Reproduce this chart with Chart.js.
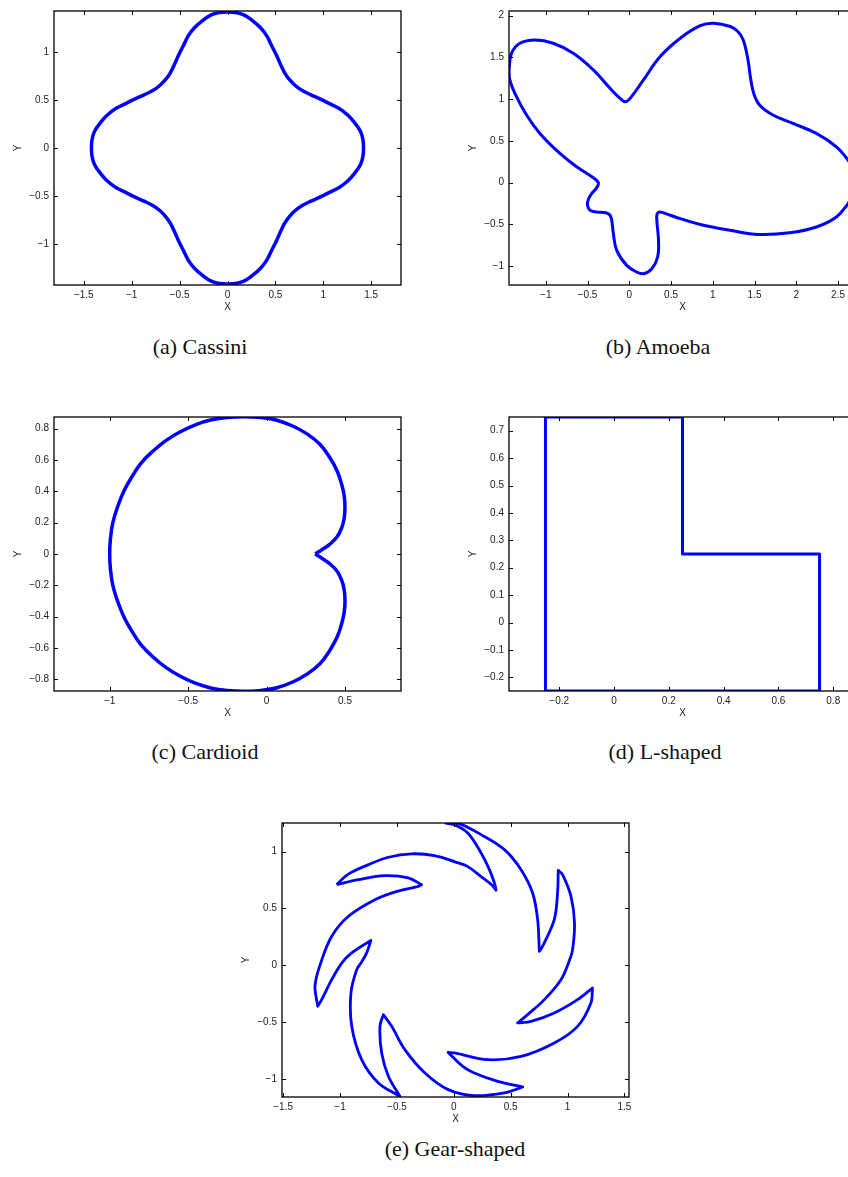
<!DOCTYPE html>
<html>
<head>
<meta charset="utf-8">
<script src="https://cdn.jsdelivr.net/npm/chart.js@4.4.1/dist/chart.umd.min.js"></script>
<style>
  html, body { margin: 0; padding: 0; background: #fff; }
  body { width: 848px; height: 1177px; position: relative; overflow: hidden; }
  .panel { position: absolute; }
  .panel canvas { display: block; }
  .caption {
    position: absolute;
    font-family: "Liberation Serif", "DejaVu Serif", serif;
    font-size: 22px;
    color: #111;
    transform: translate(-50%, -50%);
    white-space: nowrap;
  }
</style>
</head>
<body>

<div class="panel" style="left:0px;top:0px"><canvas id="cassini" width="420" height="320"></canvas></div>
<div class="panel" style="left:455px;top:0px"><canvas id="amoeba" width="420" height="320"></canvas></div>
<div class="panel" style="left:0px;top:406px"><canvas id="cardioid" width="420" height="320"></canvas></div>
<div class="panel" style="left:455px;top:406px"><canvas id="lshape" width="420" height="320"></canvas></div>
<div class="panel" style="left:228px;top:812px"><canvas id="gear" width="420" height="320"></canvas></div>

<div class="caption" style="left:200px;top:347px">(a) Cassini</div>
<div class="caption" style="left:658px;top:347px">(b) Amoeba</div>
<div class="caption" style="left:205px;top:752px">(c) Cardioid</div>
<div class="caption" style="left:665px;top:752px">(d) L-shaped</div>
<div class="caption" style="left:455px;top:1149px">(e) Gear-shaped</div>

<script>
// boundary points, [x, y]
const cassiniPts = [
  [1.42,0],[1.415,0.08],[1.39,0.17],[1.33,0.26],[1.26,0.34],[1.17,0.41],[1.07,0.46],[0.97,0.51],
  [0.87,0.555],[0.78,0.60],[0.71,0.65],[0.65,0.71],[0.60,0.78],[0.555,0.87],[0.51,0.97],
  [0.46,1.07],[0.41,1.17],[0.34,1.26],[0.26,1.33],[0.17,1.39],[0.08,1.415],[0,1.42],
  [-0.08,1.415],[-0.17,1.39],[-0.26,1.33],[-0.34,1.26],[-0.41,1.17],[-0.46,1.07],[-0.51,0.97],
  [-0.555,0.87],[-0.60,0.78],[-0.65,0.71],[-0.71,0.65],[-0.78,0.60],[-0.87,0.555],[-0.97,0.51],
  [-1.07,0.46],[-1.17,0.41],[-1.26,0.34],[-1.33,0.26],[-1.39,0.17],[-1.415,0.08],[-1.42,0],
  [-1.415,-0.08],[-1.39,-0.17],[-1.33,-0.26],[-1.26,-0.34],[-1.17,-0.41],[-1.07,-0.46],[-0.97,-0.51],
  [-0.87,-0.555],[-0.78,-0.60],[-0.71,-0.65],[-0.65,-0.71],[-0.60,-0.78],[-0.555,-0.87],[-0.51,-0.97],
  [-0.46,-1.07],[-0.41,-1.17],[-0.34,-1.26],[-0.26,-1.33],[-0.17,-1.39],[-0.08,-1.415],[0,-1.42],
  [0.08,-1.415],[0.17,-1.39],[0.26,-1.33],[0.34,-1.26],[0.41,-1.17],[0.46,-1.07],[0.51,-0.97],
  [0.555,-0.87],[0.60,-0.78],[0.65,-0.71],[0.71,-0.65],[0.78,-0.60],[0.87,-0.555],[0.97,-0.51],
  [1.07,-0.46],[1.17,-0.41],[1.26,-0.34],[1.33,-0.26],[1.39,-0.17],[1.415,-0.08],[1.42,0]
];

const amoebaPts = [
  [-1.44,1.35],[-1.41,1.55],[-1.31,1.67],[-1.13,1.71],[-0.91,1.67],[-0.67,1.55],[-0.43,1.35],
  [-0.23,1.13],[-0.11,1.01],[-0.05,0.97],[0.01,1.01],[0.17,1.23],[0.37,1.51],[0.61,1.73],
  [0.85,1.88],[1.01,1.91],[1.21,1.87],[1.30,1.81],[1.36,1.72],[1.40,1.58],[1.43,1.42],
  [1.45,1.27],[1.49,1.07],[1.56,0.93],[1.72,0.81],[1.96,0.71],[2.24,0.59],[2.48,0.43],
  [2.62,0.27],[2.69,0.14],[2.715,0.01],[2.69,-0.13],[2.62,-0.25],[2.48,-0.41],[2.24,-0.53],
  [1.92,-0.60],[1.55,-0.62],[1.21,-0.57],[0.89,-0.51],[0.61,-0.43],[0.49,-0.39],[0.37,-0.35],
  [0.335,-0.37],[0.33,-0.45],[0.35,-0.69],[0.34,-0.89],[0.27,-1.03],[0.17,-1.09],[0.09,-1.07],
  [-0.03,-0.99],[-0.15,-0.81],[-0.19,-0.61],[-0.21,-0.45],[-0.23,-0.39],[-0.28,-0.36],
  [-0.39,-0.35],[-0.47,-0.33],[-0.50,-0.27],[-0.49,-0.20],[-0.45,-0.13],[-0.39,-0.06],
  [-0.37,0.0],[-0.43,0.06],[-0.63,0.19],[-0.83,0.35],[-1.07,0.59],[-1.23,0.81],[-1.37,1.07],
  [-1.43,1.23],[-1.44,1.35]
];

// cusp point sits at both ends so it stays sharp
const cardioidPts = [
  [0.31,0],[0.35,0.025],[0.40,0.06],[0.45,0.11],[0.48,0.17],[0.495,0.23],[0.50,0.30],[0.495,0.37],
  [0.48,0.44],[0.45,0.53],[0.40,0.62],[0.34,0.70],[0.26,0.765],[0.17,0.815],[0.06,0.855],
  [-0.05,0.872],[-0.15,0.876],[-0.25,0.871],[-0.35,0.856],[-0.45,0.826],[-0.55,0.78],[-0.64,0.725],
  [-0.72,0.66],[-0.80,0.58],[-0.86,0.49],[-0.91,0.40],[-0.95,0.30],[-0.98,0.20],[-0.995,0.10],[-1.0,0],
  [-0.995,-0.10],[-0.98,-0.20],[-0.95,-0.30],[-0.91,-0.40],[-0.86,-0.49],[-0.80,-0.58],[-0.72,-0.66],
  [-0.64,-0.725],[-0.55,-0.78],[-0.45,-0.826],[-0.35,-0.856],[-0.25,-0.871],[-0.15,-0.876],
  [-0.05,-0.872],[0.06,-0.855],[0.17,-0.815],[0.26,-0.765],[0.34,-0.70],[0.40,-0.62],[0.45,-0.53],
  [0.48,-0.44],[0.495,-0.37],[0.50,-0.30],[0.495,-0.23],[0.48,-0.17],[0.45,-0.11],[0.40,-0.06],
  [0.35,-0.025],[0.31,0]
];

const lshapePts = [
  [-0.25,-0.25],[0.75,-0.25],[0.75,0.25],[0.25,0.25],[0.25,0.75],[-0.25,0.75],[-0.25,-0.25]
];

// tips are listed twice so the spline keeps them pointed
const gearPts = [
  [-1.03,0.71],
  [-0.93,0.80],[-0.75,0.885],[-0.575,0.95],[-0.37,0.98],[-0.17,0.965],[0.01,0.91],[0.12,0.87],
  [0.24,0.78],[0.33,0.71],
  [0.372,0.66],[0.372,0.66],
  [0.357,0.724],[0.313,0.841],[0.24,0.988],[0.123,1.163],[0.006,1.236],
  [-0.07,1.25],[-0.07,1.25],
  [0.035,1.25],[0.24,1.149],[0.445,1.017],[0.591,0.841],[0.693,0.636],[0.737,0.402],
  [0.752,0.123],[0.752,0.123],
  [0.78,0.167],[0.883,0.402],[0.912,0.636],
  [0.918,0.835],[0.918,0.835],
  [0.956,0.797],[1.03,0.606],[1.061,0.372],[1.044,0.138],[1.015,0.04],[0.942,-0.126],
  [0.796,-0.301],[0.649,-0.433],
  [0.561,-0.506],[0.561,-0.506],
  [0.679,-0.492],[0.883,-0.418],[1.088,-0.301],
  [1.219,-0.199],[1.219,-0.199],
  [1.205,-0.33],[1.088,-0.536],[0.883,-0.682],[0.591,-0.80],[0.298,-0.829],[0.006,-0.77],
  [-0.05,-0.765],[-0.05,-0.765],
  [0.079,-0.888],[0.18,-0.946],[0.386,-1.019],
  [0.605,-1.069],[0.605,-1.069],
  [0.445,-1.121],[0.18,-1.145],[-0.049,-1.092],[-0.254,-0.946],[-0.43,-0.741],[-0.546,-0.536],
  [-0.619,-0.433],[-0.619,-0.433],
  [-0.649,-0.536],[-0.634,-0.77],[-0.575,-0.975],
  [-0.474,-1.151],[-0.474,-1.151],
  [-0.663,-1.033],[-0.81,-0.829],[-0.897,-0.536],[-0.904,-0.243],[-0.854,-0.04],[-0.81,0.03],
  [-0.766,0.11],
  [-0.728,0.22],[-0.728,0.22],
  [-0.897,0.109],[-0.985,0.02],[-1.073,-0.126],[-1.161,-0.301],
  [-1.196,-0.36],[-1.196,-0.36],
  [-1.22,-0.18],[-1.17,0.02],[-1.073,0.255],[-0.926,0.431],[-0.693,0.577],[-0.5,0.65],
  [-0.312,0.694],
  [-0.283,0.709],[-0.283,0.709],
  [-0.40,0.768],[-0.605,0.788],[-0.839,0.753],
  [-1.03,0.71]
];

// tick values per panel
const cassiniXTicks = [-1.5, -1, -0.5, 0, 0.5, 1, 1.5];
const cassiniYTicks = [-1, -0.5, 0, 0.5, 1];
const amoebaXTicks = [-1, -0.5, 0, 0.5, 1, 1.5, 2, 2.5];
const amoebaYTicks = [-1, -0.5, 0, 0.5, 1, 1.5, 2];
const cardioidXTicks = [-1, -0.5, 0, 0.5];
const cardioidYTicks = [-0.8, -0.6, -0.4, -0.2, 0, 0.2, 0.4, 0.6, 0.8];
const lshapeXTicks = [-0.2, 0, 0.2, 0.4, 0.6, 0.8];
const lshapeYTicks = [-0.2, -0.1, 0, 0.1, 0.2, 0.3, 0.4, 0.5, 0.6, 0.7];
const gearXTicks = [-1.5, -1, -0.5, 0, 0.5, 1, 1.5];
const gearYTicks = [-1, -0.5, 0, 0.5, 1];

const tickFont = { family: "Liberation Sans, Arial, sans-serif", size: 10 };
const textColor = "#222";

function fmt(v) {
    return v < 0 ? "\u2212" + Math.abs(v) : String(v);
}

// matlab style box with ticks pointing inward on all four sides
const matlabBox = {
    id: "matlabBox",
    afterDraw(chart) {
        const { ctx, chartArea: a } = chart;
        const x = chart.scales.x, y = chart.scales.y;
        ctx.save();
        ctx.strokeStyle = "#000";
        ctx.lineWidth = 1;
        ctx.beginPath();
        x.ticks.forEach(t => {
            const px = Math.round(x.getPixelForValue(t.value)) + 0.5;
            ctx.moveTo(px, a.bottom); ctx.lineTo(px, a.bottom - 4);
            ctx.moveTo(px, a.top); ctx.lineTo(px, a.top + 4);
        });
        y.ticks.forEach(t => {
            const py = Math.round(y.getPixelForValue(t.value)) + 0.5;
            ctx.moveTo(a.left, py); ctx.lineTo(a.left + 4, py);
            ctx.moveTo(a.right, py); ctx.lineTo(a.right - 4, py);
        });
        ctx.stroke();
        ctx.lineWidth = 1.3;
        ctx.strokeRect(a.left, a.top, a.right - a.left, a.bottom - a.top);
        ctx.restore();
    }
};

function makePlot(id, pts, xRange, yRange, xTicks, yTicks, lineW, tension) {
    return new Chart(document.getElementById(id), {
        type: "scatter",
        data: {
            datasets: [{
                data: pts.map(p => ({ x: p[0], y: p[1] })),
                showLine: true,
                borderColor: "#0000ff",
                borderWidth: lineW,
                borderJoinStyle: "round",
                pointRadius: 0,
                tension: tension,
                capBezierPoints: false,
                fill: false
            }]
        },
        options: {
            responsive: false,
            animation: false,
            events: [],
            layout: { padding: { left: 0, top: 11, right: 19, bottom: 0 } },
            plugins: { legend: { display: false }, tooltip: { enabled: false } },
            scales: {
                x: {
                    type: "linear",
                    min: xRange[0], max: xRange[1],
                    grid: { display: false, drawTicks: false },
                    border: { display: false },
                    afterBuildTicks: s => { s.ticks = xTicks.map(v => ({ value: v })); },
                    afterFit: s => { s.height = 35; },
                    ticks: { padding: 4, maxRotation: 0, autoSkip: false, color: textColor, font: tickFont, callback: fmt },
                    title: { display: true, text: "X", color: textColor, font: tickFont, padding: { top: 0, bottom: 7 } }
                },
                y: {
                    type: "linear",
                    min: yRange[0], max: yRange[1],
                    grid: { display: false, drawTicks: false },
                    border: { display: false },
                    afterBuildTicks: s => { s.ticks = yTicks.map(v => ({ value: v })); },
                    afterFit: s => { s.width = 54; },
                    ticks: { padding: 5, autoSkip: false, color: textColor, font: tickFont, callback: fmt },
                    title: { display: true, text: "Y", color: textColor, font: tickFont, padding: { top: 12, bottom: 0 } }
                }
            }
        },
        plugins: [matlabBox]
    });
}

makePlot("cassini", cassiniPts, [-1.811, 1.811], [-1.43, 1.43], cassiniXTicks, cassiniYTicks, 3.5, 0.4);
makePlot("amoeba", amoebaPts, [-1.44, 2.715], [-1.225, 2.056], amoebaXTicks, amoebaYTicks, 3, 0.4);
makePlot("cardioid", cardioidPts, [-1.355, 0.857], [-0.874, 0.874], cardioidXTicks, cardioidYTicks, 3.5, 0.4);
makePlot("lshape", lshapePts, [-0.383, 0.883], [-0.25, 0.75], lshapeXTicks, lshapeYTicks, 3, 0);
makePlot("gear", gearPts, [-1.51, 1.54], [-1.157, 1.251], gearXTicks, gearYTicks, 2.8, 0.35);
</script>
</body>
</html>
